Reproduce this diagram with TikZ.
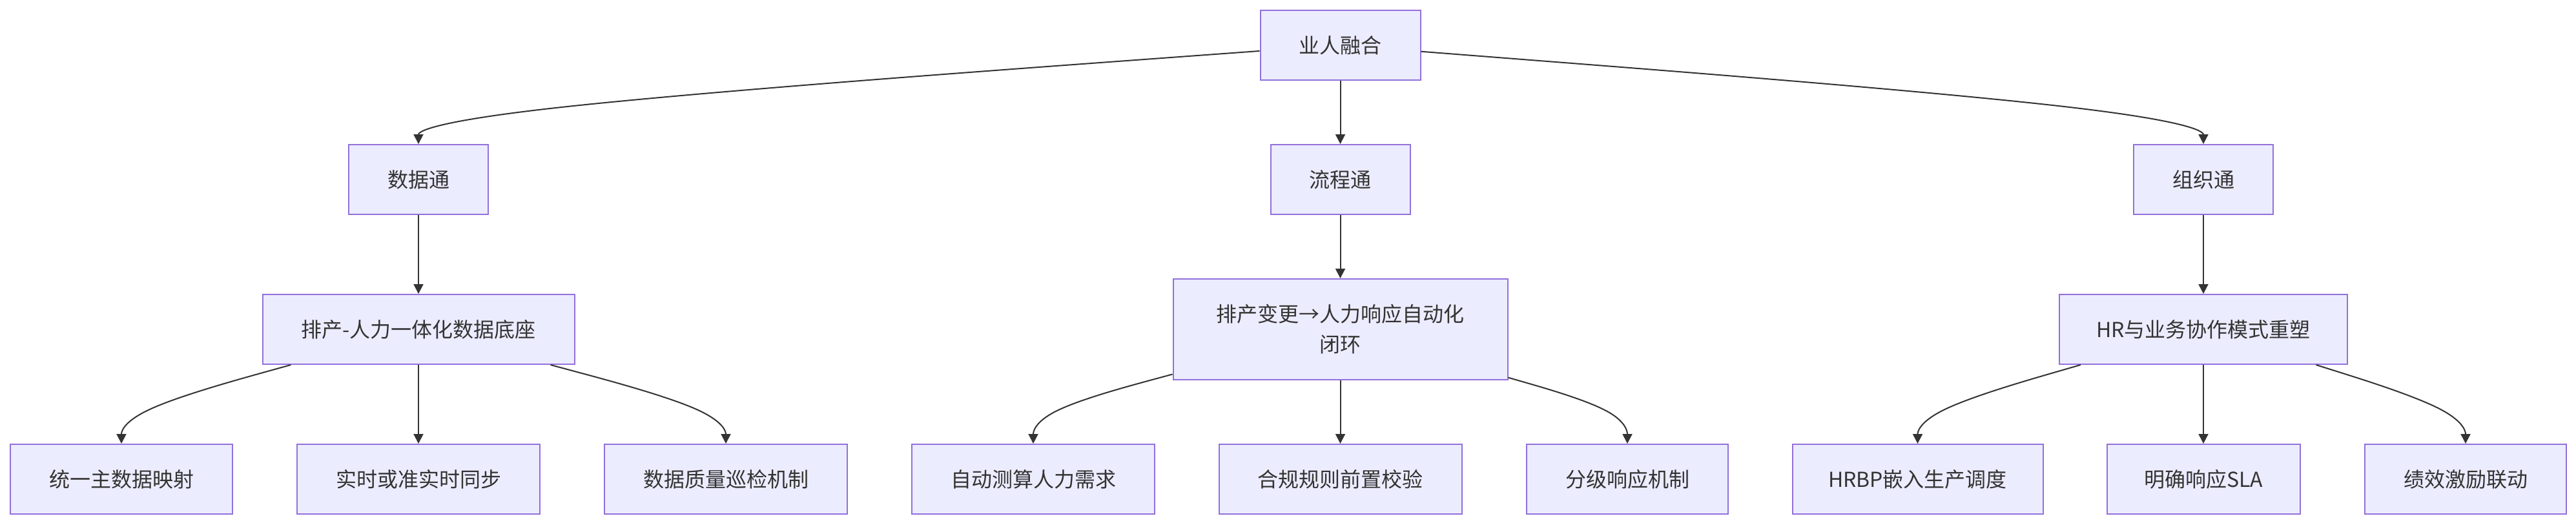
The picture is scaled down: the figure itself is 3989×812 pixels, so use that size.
\documentclass[tikz,border=0pt]{standalone}
\usepackage{fontspec}
\newfontfamily\cjk{Noto Sans CJK SC}
\usetikzlibrary{arrows.meta,calc}
\definecolor{nodefill}{HTML}{ECECFF}
\definecolor{nodeline}{HTML}{9370DB}
\definecolor{ink}{HTML}{333333}
\tikzset{
  box/.style={draw=nodeline, fill=nodefill, line width=2pt, inner sep=0pt,
    text=ink, font=\cjk\fontsize{32}{47}\selectfont, align=center,
    minimum height=108pt},
  edge/.style={draw=ink, line width=2pt, -{Triangle[length=15pt,width=15pt]}},
}
\newcommand{\mmcurve}[3]{%
  \path (#1) -- (#2) coordinate[pos=0] (mmA);
  \coordinate (mmB) at ($(#2)!1/3!(#3.north)$);
  \coordinate (mmC) at ($(mmA)!2/3!(#2)$);
  \draw[edge] (mmA) -- ($(mmA)!1/6!(#2)$)
    .. controls ($(mmA)!1/3!(#2)$) and (mmC) .. ($(mmC)!0.5!(mmB)$)
    .. controls (mmB) and ($(#2)!2/3!(#3.north)$) .. (#3.north);
}
\begin{document}
\begin{tikzpicture}[x=1pt,y=-1pt]
\useasboundingbox[fill=white] (0,0) rectangle (3989,812);
% level 0
\node[box, minimum width=248pt, minimum height=108.5pt] (top) at (2075.5,70) {业人融合};
% level 1
\node[box, minimum width=216pt] (data) at (648,278) {数据通};
\node[box, minimum width=216pt] (flow) at (2075.5,278) {流程通};
\node[box, minimum width=216pt] (org) at (3412,278) {组织通};
% level 2
\node[box, minimum width=483pt] (pa) at (648,510) {排产-人力一体化数据底座};
\node[box, minimum width=518pt, minimum height=156pt] (pb) at (2075.5,510) {排产变更→人力响应自动化\\闭环};
\node[box, minimum width=446pt] (hr) at (3412,510) {HR与业务协作模式重塑};
% level 3
\node[box, minimum width=344pt] (b1) at (188,742) {统一主数据映射};
\node[box, minimum width=376pt] (b2) at (648,742) {实时或准实时同步};
\node[box, minimum width=376pt] (b3) at (1124,742) {数据质量巡检机制};
\node[box, minimum width=376pt] (b4) at (1600,742) {自动测算人力需求};
\node[box, minimum width=376pt] (b5) at (2075.5,742) {合规规则前置校验};
\node[box, minimum width=312pt] (b6) at (2520,742) {分级响应机制};
\node[box, minimum width=388pt] (b7) at (2969.5,742) {HRBP嵌入生产调度};
\node[box, minimum width=299pt] (b8) at (3412,742) {明确响应SLA};
\node[box, minimum width=312pt] (b9) at (3818,742) {绩效激励联动};
% dummy routing points
\coordinate (d1) at (648,174.25);
\coordinate (d3) at (3412,174.25);
\coordinate (e1) at (188,638);
\coordinate (e3) at (1124,638);
\coordinate (e4) at (1600,638);
\coordinate (e6) at (2520,638);
\coordinate (e7) at (2969.5,638);
\coordinate (e9) at (3818,638);
% edges
\mmcurve{top}{d1}{data}
\draw[edge] (top) -- (flow);
\mmcurve{top}{d3}{org}
\draw[edge] (data) -- (pa);
\draw[edge] (flow) -- (pb);
\draw[edge] (org) -- (hr);
\mmcurve{pa}{e1}{b1}
\draw[edge] (pa) -- (b2);
\mmcurve{pa}{e3}{b3}
\mmcurve{pb}{e4}{b4}
\draw[edge] (pb) -- (b5);
\mmcurve{pb}{e6}{b6}
\mmcurve{hr}{e7}{b7}
\draw[edge] (hr) -- (b8);
\mmcurve{hr}{e9}{b9}
\end{tikzpicture}
\end{document}
